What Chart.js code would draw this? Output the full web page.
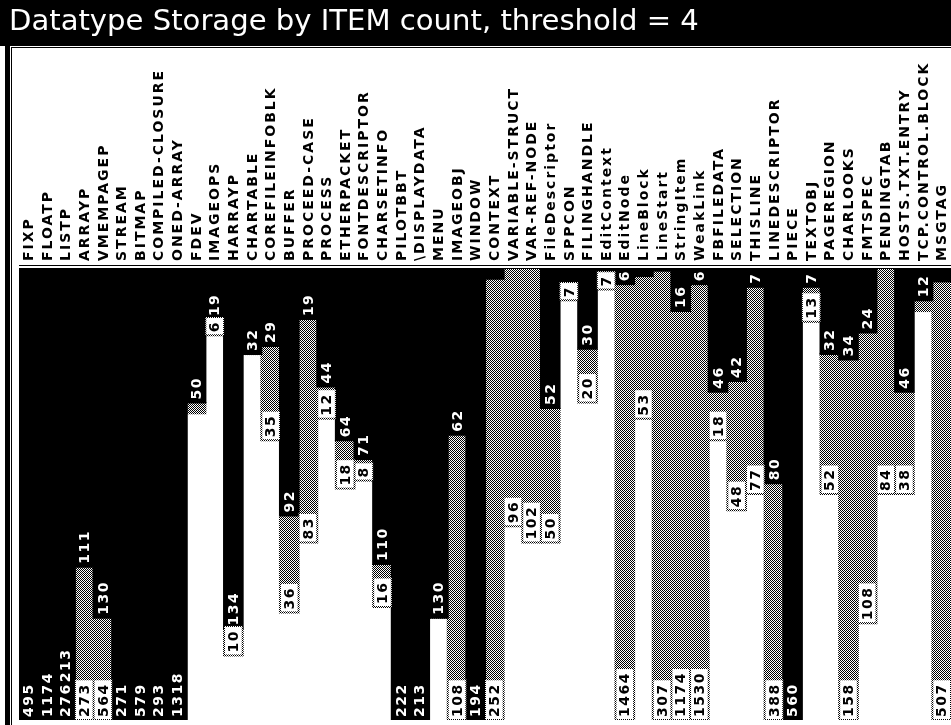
<!DOCTYPE html>
<html>
<head>
<meta charset="utf-8">
<script src="https://cdn.jsdelivr.net/npm/chart.js@4"></script>
<style>
  html, body { margin: 0; padding: 0; background: #fff; }
  canvas { display: block; }
</style>
</head>
<body>
<canvas id="chartStorage" width="951" height="725"></canvas>
<script>
// datatypes, left to right
var categories = [
    'FIXP', 'FLOATP', 'LISTP', 'ARRAYP', 'VMEMPAGEP', 'STREAM', 'BITMAP', 'COMPILED-CLOSURE',
    'ONED-ARRAY', 'FDEV', 'IMAGEOPS', 'HARRAYP', 'CHARTABLE', 'COREFILEINFOBLK', 'BUFFER',
    'PROCEED-CASE', 'PROCESS', 'ETHERPACKET', 'FONTDESCRIPTOR', 'CHARSETINFO', 'PILOTBBT',
    '\\DISPLAYDATA', 'MENU', 'IMAGEOBJ', 'WINDOW', 'CONTEXT', 'VARIABLE-STRUCT', 'VAR-REF-NODE',
    'FileDescriptor', 'SPPCON', 'FILINGHANDLE', 'EditContext', 'EditNode', 'LineBlock',
    'LineStart', 'StringItem', 'WeakLink', 'FBFILEDATA', 'SELECTION', 'THISLINE',
    'LINEDESCRIPTOR', 'PIECE', 'TEXTOBJ', 'PAGEREGION', 'CHARLOOKS', 'FMTSPEC', 'PENDINGTAB',
    'HOSTS.TXT.ENTRY', 'TCP.CONTROL.BLOCK', 'MSGTAG'
];

// black segment (first count)
var blackCounts = [
    495, 1174, 276, 111, 130, 271, 579, 293, 1318, 50,
    19, 134, 32, 29, 92, 19, 44, 64, 71, 110,
    222, 213, 130, 62, 194, 4, 0, 0, 52, 5,
    30, 1, 6, 3, 1, 16, 6, 46, 42, 7,
    80, 560, 7, 32, 34, 24, 0, 46, 12, 5
];

// dithered segment, stacked after the black one
var grayCounts = [
    0, 0, 213, 273, 564, 0, 0, 0, 0, 4,
    6, 10, 0, 35, 36, 83, 12, 18, 8, 16,
    0, 0, 0, 108, 0, 252, 96, 102, 50, 7,
    20, 7, 1464, 53, 307, 1174, 1530, 18, 48, 77,
    388, 0, 13, 52, 158, 108, 84, 38, 4, 507
];

var threshold = 4;
var axisMax = 168;
var titleText = 'Datatype Storage by ITEM count, threshold = ' + threshold;

var NAME_FONT = 'bold 14px "DejaVu Sans"';
var VALUE_FONT = 'bold 14px "DejaVu Sans"';

// 50% checker dither
var pc = document.createElement('canvas');
pc.width = 2; pc.height = 2;
var pctx = pc.getContext('2d');
pctx.fillStyle = '#fff';
pctx.fillRect(0, 0, 2, 2);
pctx.fillStyle = '#000';
pctx.fillRect(0, 0, 1, 1);
pctx.fillRect(1, 1, 1, 1);

var canvas = document.getElementById('chartStorage');
var ctx = canvas.getContext('2d');
var dither = ctx.createPattern(pc, 'repeat');

function upText(c, txt, x, y, spacing){
    c.save();
    c.translate(x, y);
    c.rotate(-Math.PI / 2);
    c.letterSpacing = spacing;
    c.textAlign = 'left';
    c.textBaseline = 'middle';
    c.fillText(txt, 0, 1);
    c.restore();
}

function textLen(c, txt, font, spacing){
    c.save();
    c.font = font;
    c.letterSpacing = spacing;
    var w = c.measureText(txt).width;
    c.restore();
    return w;
}

var storagePlugin = {
    id: 'storage',

    beforeDraw: function(chart){
        var c = chart.ctx;
        c.save();
        c.fillStyle = '#fff';
        c.fillRect(0, 0, chart.width, chart.height);
        c.restore();
    },

    afterDatasetsDraw: function(chart){
        var c = chart.ctx;
        var area = chart.chartArea;
        var ys = chart.scales.y;
        var bars = chart.getDatasetMeta(0).data;

        c.save();
        c.font = VALUE_FONT;

        bars.forEach(function(bar, i){
            var b = blackCounts[i], g = grayCounts[i];
            var w = bar.width;
            var x0 = bar.x - w / 2;
            var bEnd = Math.min(ys.getPixelForValue(b), area.bottom);
            var gEnd = Math.min(ys.getPixelForValue(b + g), area.bottom);
            var bStart = area.top;
            var bLabelTop = null;

            // black value, white on black
            if (b > threshold) {
                var t = String(b);
                var len = textLen(c, t, VALUE_FONT, '1.5px');
                if (bEnd - bStart >= len + 4) {
                    c.fillStyle = '#fff';
                    upText(c, t, bar.x, bEnd - 3, '1.5px');
                    bLabelTop = bEnd - 3 - len;
                }
            }

            // dithered value, boxed
            if (g > threshold) {
                var t2 = String(g);
                var len2 = textLen(c, t2, VALUE_FONT, '1.5px');
                if (gEnd - bEnd >= len2 * 0.5) {
                    var top = gEnd - len2 - 6;
                    c.fillStyle = dither;
                    c.fillRect(x0, top - 1, w, gEnd - top + 1);
                    c.fillStyle = '#fff';
                    c.fillRect(x0 + 1, top, w - 2, gEnd - top - 1);
                    c.fillStyle = '#000';
                    upText(c, t2, bar.x, gEnd - 3, '1.5px');
                } else if (bLabelTop !== null) {
                    c.fillStyle = '#fff';
                    upText(c, t2, bar.x, bLabelTop - 1, '1.5px');
                }
            }
        });
        c.restore();
    },

    afterDraw: function(chart){
        var c = chart.ctx;
        var area = chart.chartArea;
        var bars = chart.getDatasetMeta(0).data;

        c.save();
        // title bar
        c.fillStyle = '#000';
        c.fillRect(0, 0, chart.width, 46);
        c.fillRect(5, 46, 5, chart.height - 46);
        c.fillRect(11, 47, 1, chart.height - 47);
        c.fillRect(11, 47, chart.width - 11, 1);

        var size = 26;
        c.font = size + 'px "DejaVu Sans"';
        size = size * 690 / c.measureText(titleText).width;
        c.font = size + 'px "DejaVu Sans"';
        c.fillStyle = '#fff';
        c.textAlign = 'left';
        c.textBaseline = 'alphabetic';
        c.fillText(titleText, 9, 30);

        // datatype names above the columns
        c.fillStyle = '#000';
        c.font = NAME_FONT;
        bars.forEach(function(bar, i){
            upText(c, categories[i], bar.x, area.top - 7, '2px');
        });

        // rule under the names
        c.fillRect(area.left, area.top - 3, area.right - area.left, 1);
        c.restore();
    }
};

new Chart(ctx, {
    type: 'bar',
    data: {
        labels: categories,
        datasets: [
            { label: 'black', data: blackCounts, backgroundColor: '#000', borderWidth: 0, inflateAmount: 1, stack: 's' },
            { label: 'gray', data: grayCounts, backgroundColor: dither, borderWidth: 0, inflateAmount: 1, stack: 's' }
        ]
    },
    options: {
        responsive: false,
        animation: false,
        devicePixelRatio: 1,
        layout: { padding: { left: 19, top: 268, right: 0, bottom: 5 } },
        datasets: { bar: { barPercentage: 1, categoryPercentage: 1 } },
        plugins: {
            legend: { display: false },
            title: { display: false },
            tooltip: { enabled: false }
        },
        scales: {
            x: { display: false, stacked: true },
            y: { display: false, stacked: true, reverse: true, min: 0, max: axisMax }
        }
    },
    plugins: [storagePlugin]
});
</script>
</body>
</html>
